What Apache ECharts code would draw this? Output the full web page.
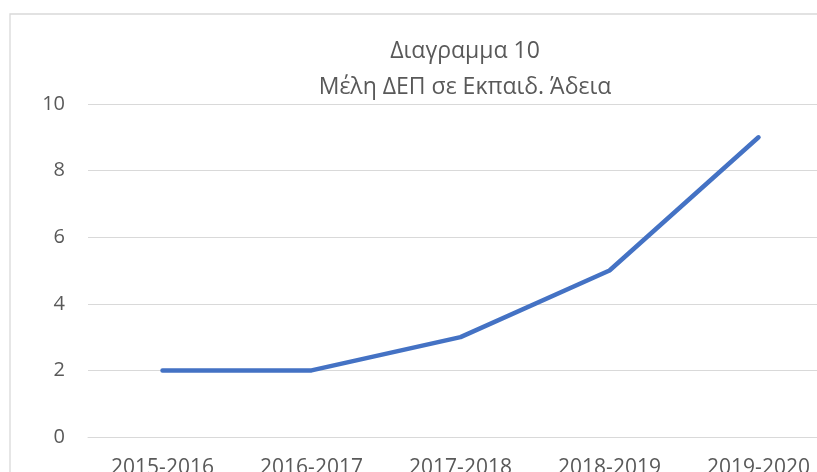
<!DOCTYPE html>
<html>
<head>
<meta charset="utf-8">
<script src="https://cdn.jsdelivr.net/npm/echarts@6/dist/echarts.min.js"></script>
<style>
  html, body { margin: 0; padding: 0; background: #fff; }
  #chart { width: 817px; height: 472px; }
</style>
</head>
<body>
<div id="chart"></div>
<script>
  var years = ['2015-2016', '2016-2017', '2017-2018', '2018-2019', '2019-2020'];
  var members = [2, 2, 3, 5, 9];
  var titleLines = ['Διαγραμμα 10', 'Μέλη ΔΕΠ σε Εκπαιδ. Άδεια'];

  var font = '"Open Sans", "Noto Sans", sans-serif';
  var chart = echarts.init(document.getElementById('chart'));
  chart.setOption({
    backgroundColor: '#fff',
    animation: false,
    title: {
      text: titleLines.join('\n'),
      left: 460,
      top: 28,
      textAlign: 'center',
      textStyle: { fontFamily: font, fontSize: 23, fontWeight: 'normal', color: '#595959', lineHeight: 36 }
    },
    graphic: [{
      type: 'rect',
      shape: { x: 10, y: 14, width: 1000, height: 600 },
      style: { fill: 'none', stroke: '#d9d9d9', lineWidth: 1.3 },
      silent: true, z: -1
    }],
    grid: { left: 88, top: 104, width: 745, height: 333, outerBoundsMode: 'none', containLabel: false },
    xAxis: {
      type: 'category',
      data: years,
      boundaryGap: true,
      axisLine: { lineStyle: { color: '#d9d9d9', width: 1 } },
      axisTick: { show: false },
      axisLabel: { fontFamily: font, fontSize: 21, color: '#595959', margin: 21, interval: 0 }
    },
    yAxis: {
      type: 'value',
      min: 0, max: 10, interval: 2,
      axisLine: { show: false },
      axisTick: { show: false },
      splitLine: { lineStyle: { color: '#d9d9d9', width: 1 } },
      axisLabel: { fontFamily: font, fontSize: 20, color: '#595959', margin: 23 }
    },
    series: [{
      type: 'line',
      data: members,
      symbol: 'none',
      lineStyle: { color: '#4472c4', width: 4.5, cap: 'round', join: 'round' }
    }]
  });
</script>
</body>
</html>
